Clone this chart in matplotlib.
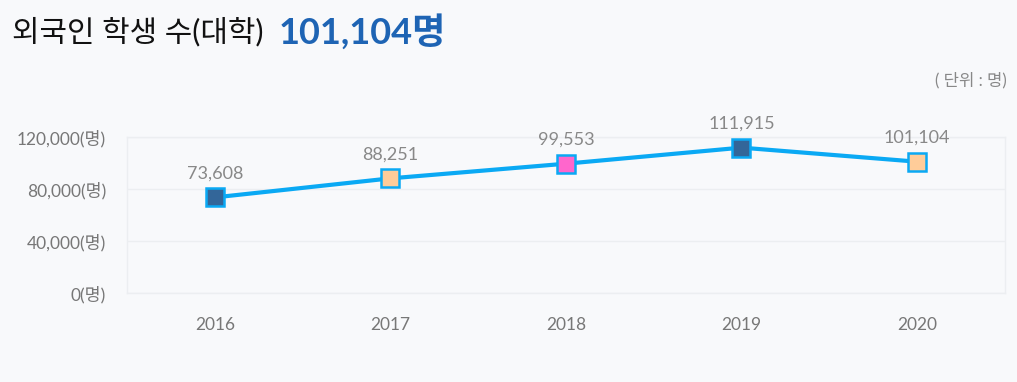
import matplotlib.pyplot as plt

years = ['2016', '2017', '2018', '2019', '2020']
students = [73608, 88251, 99553, 111915, 101104]
marker_colors = ['#336699', '#ffcc99', '#ff66cc', '#336699', '#ffcc99']
y_ticks = [0, 40000, 80000, 120000]
y_labels = ['0(명)', '40,000(명)', '80,000(명)', '120,000(명)']

bg = '#f8f9fb'
kfont = ['Lato', 'Noto Sans CJK KR']

fig = plt.figure(figsize=(10.17, 3.82), dpi=100, facecolor=bg)
ax = fig.add_axes([0.1249, 0.233, 0.863, 0.408], facecolor=bg)

x = range(len(years))
ax.plot(x, students, color='#0aa9f4', lw=3, zorder=2)
for i, v in enumerate(students):
    ax.plot(i, v, marker='s', ms=12.5, mfc=marker_colors[i], mec='#0aa9f4', mew=1.8, zorder=3)
    ax.text(i, v + 12500, f'{v:,}', ha='center', va='bottom', fontsize=13,
            color='#888888', family=kfont)

ax.set_xlim(-0.5, 4.5)
ax.set_ylim(0, 120000)
ax.set_xticks(list(x))
ax.set_xticklabels(years, family=kfont, fontsize=12.5, color='#777777')
ax.set_yticks(y_ticks)
ax.set_yticklabels(y_labels, family=kfont, fontsize=12.5, color='#777777')
ax.tick_params(length=0)
ax.tick_params(axis='x', pad=17)
ax.tick_params(axis='y', pad=15)
ax.grid(axis='y', color='#eceef1', lw=1)
ax.set_axisbelow(True)
for s in ax.spines.values():
    s.set_color('#eceef1')
    s.set_linewidth(1)

fig.text(0.012, 0.918, '외국인 학생 수(대학)', fontsize=21.5, color='#111111',
         family=kfont, va='center')
fig.text(0.274, 0.918, '101,104명', fontsize=26, color='#1e64b4',
         family=kfont, weight='bold', va='center')
fig.text(0.99, 0.79, '( 단위 : 명)', fontsize=12, color='#888888',
         family=kfont, ha='right', va='center')

fig.savefig('out.png', facecolor=bg)
